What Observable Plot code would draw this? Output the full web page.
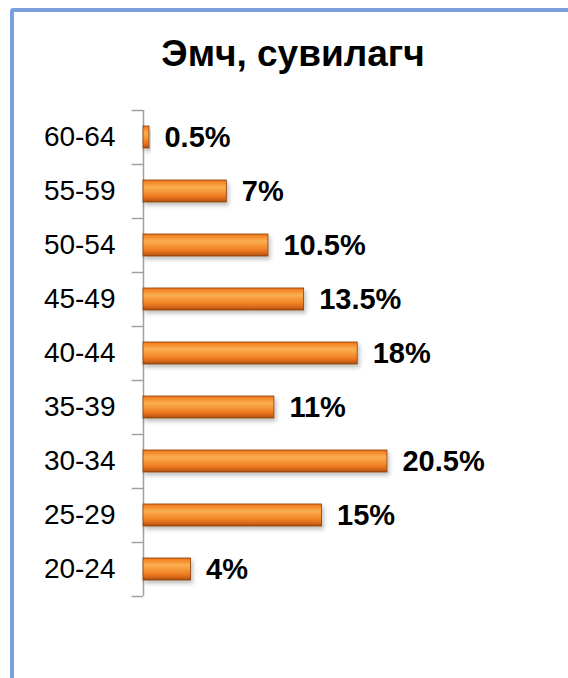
<!DOCTYPE html>
<html><head><meta charset="utf-8">
<script src="https://cdn.jsdelivr.net/npm/d3@7"></script>
<script src="https://cdn.jsdelivr.net/npm/@observablehq/plot@0.6"></script>
<style>
body{margin:0;background:#fff;overflow:hidden;font-family:"Liberation Sans",Arial,sans-serif}
#wrap{position:relative;width:568px;height:678px;overflow:hidden;background:#fff}
#frame{position:absolute;z-index:1;pointer-events:none;left:10px;top:8px;width:600px;height:700px;border-left:4px solid #7b9fdc;border-top:4px solid #7b9fdc;border-top-left-radius:4px}
#title{position:relative;height:100px;box-sizing:border-box;padding-top:34px;padding-left:18px;text-align:center;font-size:37px;line-height:40px;font-weight:bold;color:#000}
</style></head><body>
<div id="wrap"><div id="frame"></div><div id="title">Эмч, сувилагч</div><div id="chart"></div></div>
<script>
const ageGroups = ["60-64","55-59","50-54","45-49","40-44","35-39","30-34","25-29","20-24"];
const shares = [0.5, 7, 10.5, 13.5, 18, 11, 20.5, 15, 4];
const data = ageGroups.map((a, i) => ({age: a, share: shares[i]}));

const chart = Plot.plot({
  width: 568,
  height: 578,
  marginTop: 10,
  marginBottom: 82,
  marginLeft: 143,
  marginRight: 127.5,
  style: {fontFamily: "Liberation Sans, Arial, sans-serif", color: "#000", background: "transparent"},
  x: {domain: [0, 25], axis: null},
  y: {domain: ageGroups, paddingInner: 0.593, paddingOuter: 0.2965, axis: null},
  marks: [
    Plot.ruleX([0], {stroke: "#a0a0a0", strokeWidth: 1.5}),
    Plot.ruleY(ageGroups, {y: d => d, x1: -0.95, x2: 0, dy: -27, stroke: "#a0a0a0", strokeWidth: 1.5}),
    Plot.ruleY([ageGroups[ageGroups.length - 1]], {y: d => d, x1: -0.95, x2: 0, dy: 27, stroke: "#a0a0a0", strokeWidth: 1.5}),
    Plot.axisY({tickSize: 0, tickPadding: 28, fontSize: 28, fill: "#000", label: null}),
    Plot.barX(data, {y: "age", x: "share", fill: "url(#barGrad)", stroke: "#8a3d0c", strokeWidth: 0.8}),
    Plot.text(data, {y: "age", x: "share", text: d => d.share + "%", textAnchor: "start", dx: 15, fontSize: 29, fontWeight: "bold", fill: "#000"})
  ]
});
document.getElementById("chart").appendChild(chart);

const svg = d3.select(chart);
const defs = svg.insert("defs", ":first-child");
const g = defs.append("linearGradient").attr("id", "barGrad").attr("x1", 0).attr("y1", 0).attr("x2", 0).attr("y2", 1);
[[0, "#ec7418"], [0.12, "#f58a2a"], [0.32, "#fbae52"], [0.5, "#f79a3a"], [0.72, "#ef7f22"], [0.86, "#d8681a"], [1, "#a84e12"]]
  .forEach(([o, c]) => g.append("stop").attr("offset", o).attr("stop-color", c));
const f = defs.append("filter").attr("id", "barShadow").attr("x", "-10%").attr("y", "-30%").attr("width", "130%").attr("height", "180%");
f.append("feDropShadow").attr("dx", 2).attr("dy", 3).attr("stdDeviation", 2).attr("flood-color", "#000").attr("flood-opacity", 0.25);
svg.selectAll("g[aria-label='bar'] rect").attr("filter", "url(#barShadow)");
</script>
</body></html>
